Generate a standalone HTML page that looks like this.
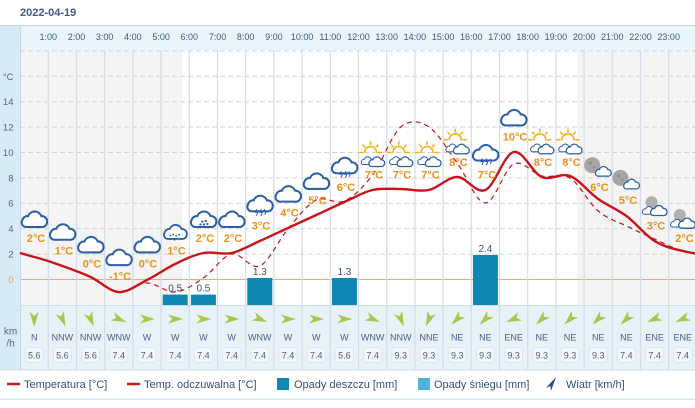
<!DOCTYPE html>
<html><head><meta charset="utf-8"><style>
html,body{margin:0;padding:0;background:#fff;}
svg{display:block;font-family:"Liberation Sans",sans-serif;}
</style></head><body>
<svg width="695" height="408" viewBox="0 0 695 408" xmlns="http://www.w3.org/2000/svg">
<defs>
<g id="cs"><rect x="-11.5" y="0" width="23" height="7" rx="3.5"/><circle cx="-6.5" cy="2.5" r="4.5"/><circle cx="0.5" cy="-0.5" r="6"/><circle cx="7.5" cy="2.5" r="4.5"/></g>
<g id="cl"><use href="#cs" fill="#2b5ea7" stroke="#2b5ea7" stroke-width="4"/><use href="#cs" fill="#fff"/></g>
<g id="rn"><use href="#cl"/><g fill="#2b5ea7"><circle cx="-1" cy="2.5" r="1.1"/><circle cx="2.5" cy="2" r="1.1"/><circle cx="0.5" cy="5.5" r="1.1"/><circle cx="4" cy="5" r="1.1"/><circle cx="-3" cy="5.5" r="1.1"/></g></g>
<g id="sn"><use href="#cl" transform="scale(0.9)"/><g fill="#2b5ea7"><circle cx="-5" cy="4" r="0.9"/><circle cx="-2" cy="3" r="0.9"/><circle cx="1" cy="4" r="0.9"/><circle cx="4" cy="3" r="0.9"/><circle cx="-3.5" cy="7" r="0.9"/><circle cx="-0.5" cy="8" r="0.9"/><circle cx="2.5" cy="7" r="0.9"/></g></g>
<g id="st"><use href="#cl" y="-3"/><path d="M-3,3 l-1.5,3 h2.5 l-1.5,3.5 M1.5,3 l-1.5,3 h2.5 l-1.5,3.5 M5,3 l-1,2.5 h2 l-1,3" stroke="#2b5ea7" stroke-width="1" fill="none"/></g>
<g id="ps"><g stroke="#f3b21b" stroke-width="1.6" fill="none" stroke-linecap="round"><path d="M-8,-3 A6,6 0 0 1 4,-3"/><path d="M-2,-11 V-13.5 M-7.7,-8.7 L-9.4,-10.4 M3.7,-8.7 L5.4,-10.4 M-10,-3 H-13 M6,-3 H9"/></g><use href="#cl" transform="translate(-5,5) scale(0.5)"/><use href="#cl" transform="translate(4,6) scale(0.62)"/></g>
<g id="nt"><circle cx="-6" cy="-3" r="8" fill="#a6a6a6"/><circle cx="-8" cy="-5" r="1.6" fill="#8e8e8e"/><circle cx="-4" cy="-1" r="1.2" fill="#8e8e8e"/><use href="#cl" transform="translate(5,3) scale(0.62)"/></g>
<g id="n2"><circle cx="-3" cy="-4" r="6" fill="#b0b0b0"/><use href="#cl" transform="translate(-6,4) scale(0.5)"/><use href="#cl" transform="translate(4,4) scale(0.65)"/></g>
<polygon id="ar" points="0,8 -4.5,-7 0,-3 4.5,-7" fill="#a3c94b"/>
</defs>

<rect width="695" height="408" fill="#fff"/>
<text x="20" y="16" font-size="11" font-weight="bold" fill="#3d5b85">2022-04-19</text>

<rect x="0" y="25" width="20" height="345" fill="#d8eaf5"/>
<rect x="20" y="25" width="675" height="25" fill="#e9f4fb"/>
<line x1="0" y1="25.5" x2="695" y2="25.5" stroke="#c2d7e6" stroke-width="1"/>
<rect x="20" y="50" width="675" height="255" fill="#fff"/>
<rect x="20" y="50" width="162" height="255" fill="#f4f4f4"/>
<rect x="577" y="50" width="118" height="255" fill="#f4f4f4"/>
<rect x="20" y="305" width="675" height="65" fill="#e7f1f8"/>

<g stroke="#d3d3d3" stroke-width="1" stroke-dasharray="5,3">
<line x1="20" y1="50.9" x2="695" y2="50.9"/>
<line x1="20" y1="76.3" x2="695" y2="76.3"/>
<line x1="20" y1="101.7" x2="695" y2="101.7"/>
<line x1="20" y1="127.1" x2="695" y2="127.1"/>
<line x1="20" y1="152.5" x2="695" y2="152.5"/>
<line x1="20" y1="177.9" x2="695" y2="177.9"/>
<line x1="20" y1="203.3" x2="695" y2="203.3"/>
<line x1="20" y1="228.7" x2="695" y2="228.7"/>
<line x1="20" y1="254.1" x2="695" y2="254.1"/>
</g>
<line x1="20" y1="279.5" x2="695" y2="279.5" stroke="#f0a878" stroke-width="1"/>

<g stroke="#d3dce7" stroke-width="1.2">
<line x1="48.3" y1="50" x2="48.3" y2="370"/><line x1="76.5" y1="50" x2="76.5" y2="370"/><line x1="104.7" y1="50" x2="104.7" y2="370"/><line x1="132.9" y1="50" x2="132.9" y2="370"/><line x1="161.1" y1="50" x2="161.1" y2="370"/><line x1="189.3" y1="50" x2="189.3" y2="370"/><line x1="217.5" y1="50" x2="217.5" y2="370"/><line x1="245.7" y1="50" x2="245.7" y2="370"/><line x1="273.9" y1="50" x2="273.9" y2="370"/><line x1="302.1" y1="50" x2="302.1" y2="370"/><line x1="330.3" y1="50" x2="330.3" y2="370"/><line x1="358.5" y1="50" x2="358.5" y2="370"/><line x1="386.7" y1="50" x2="386.7" y2="370"/><line x1="414.9" y1="50" x2="414.9" y2="370"/><line x1="443.1" y1="50" x2="443.1" y2="370"/><line x1="471.3" y1="50" x2="471.3" y2="370"/><line x1="499.5" y1="50" x2="499.5" y2="370"/><line x1="527.7" y1="50" x2="527.7" y2="370"/><line x1="555.9" y1="50" x2="555.9" y2="370"/><line x1="584.1" y1="50" x2="584.1" y2="370"/><line x1="612.3" y1="50" x2="612.3" y2="370"/><line x1="640.5" y1="50" x2="640.5" y2="370"/><line x1="668.7" y1="50" x2="668.7" y2="370"/>
</g>
<line x1="20.5" y1="25" x2="20.5" y2="370" stroke="#c4d8e6" stroke-width="1"/>
<line x1="20" y1="305.5" x2="695" y2="305.5" stroke="#cfdde8" stroke-width="1"/>
<line x1="0" y1="370" x2="695" y2="370" stroke="#cddfea" stroke-width="1"/>

<g font-size="9" fill="#3e5a82" text-anchor="middle">
<text x="48.3" y="40">1:00</text><text x="76.5" y="40">2:00</text><text x="104.7" y="40">3:00</text><text x="132.9" y="40">4:00</text><text x="161.1" y="40">5:00</text><text x="189.3" y="40">6:00</text><text x="217.5" y="40">7:00</text><text x="245.7" y="40">8:00</text><text x="273.9" y="40">9:00</text><text x="302.1" y="40">10:00</text><text x="330.3" y="40">11:00</text><text x="358.5" y="40">12:00</text><text x="386.7" y="40">13:00</text><text x="414.9" y="40">14:00</text><text x="443.1" y="40">15:00</text><text x="471.3" y="40">16:00</text><text x="499.5" y="40">17:00</text><text x="527.7" y="40">18:00</text><text x="555.9" y="40">19:00</text><text x="584.1" y="40">20:00</text><text x="612.3" y="40">21:00</text><text x="640.5" y="40">22:00</text><text x="668.7" y="40">23:00</text>
</g>

<g font-size="9.5" fill="#4d6587" text-anchor="end">
<text x="13.5" y="79.8">°C</text><text x="13.5" y="105">14</text><text x="13.5" y="130.5">12</text><text x="13.5" y="156">10</text><text x="13.5" y="181.3">8</text><text x="13.5" y="206.7">6</text><text x="13.5" y="232">4</text><text x="13.5" y="257.5">2</text><text x="13.5" y="283" fill="#e8a070">0</text>
</g>
<g font-size="10" fill="#4d6587" text-anchor="middle"><text x="10.5" y="334.5">km</text><text x="10.5" y="346.5">/h</text></g>

<g fill="#0f87b3">
<rect x="162.7" y="294.6" width="25" height="10.4"/>
<rect x="190.9" y="294.6" width="25" height="10.4"/>
<rect x="247.3" y="278" width="25" height="27"/>
<rect x="331.9" y="278" width="25" height="27"/>
<rect x="472.9" y="255" width="25" height="50"/>
</g>
<g font-size="10" fill="#44546a" text-anchor="middle">
<text x="175.2" y="291.5">0.5</text><text x="203.4" y="291.5">0.5</text><text x="259.8" y="275">1.3</text><text x="344.4" y="275">1.3</text><text x="485.4" y="252">2.4</text>
</g>

<path fill="none" stroke="#c8141c" stroke-width="1.2" stroke-dasharray="5,4" d="M20,253 L34.2,257 C43.6,259.17 53,262.67 62.4,266 C71.8,269.33 81.2,272.67 90.6,277 C100,281.33 109.4,291 118.8,292 C128.2,293 137.6,283 147,283 C156.4,283 165.8,292.83 175.2,292 C184.6,291.17 194,284.33 203.4,278 C212.8,271.67 222.2,256 231.6,254 C241,252 250.4,270.17 259.8,266 C269.2,261.83 278.6,240 288,229 C297.4,218 306.8,204.67 316.2,200 C325.6,195.33 335,205.17 344.4,201 C353.8,196.83 363.2,187.33 372.6,175 C382,162.67 391.4,135 400.8,127 C410.2,119 419.6,121 429,127 C438.4,133 447.8,150.33 457.2,163 C466.6,175.67 476,202.83 485.4,203 C494.8,203.17 504.2,168.5 513.6,164 C523,159.5 532.4,173.67 541.8,176 C551.2,178.33 560.6,172.17 570,178 C579.4,183.83 588.8,203 598.2,211 C607.6,219 617,221.33 626.4,226 C635.8,230.67 645.2,234.83 654.6,239 C664,243.17 673.4,248.5 682.8,251 L697,254"/>
<path fill="none" stroke="#c8141c" stroke-width="2.4" stroke-linejoin="round" d="M20,253 L34.2,257 C43.6,259.17 53,262.67 62.4,266 C71.8,269.33 81.2,272.67 90.6,277 C100,281.33 109.4,291.5 118.8,292 C128.2,292.5 137.6,284.67 147,280 C156.4,275.33 165.8,268.5 175.2,264 C184.6,259.5 194,254.83 203.4,253 C212.8,251.17 222.2,255 231.6,253 C241,251 250.4,245.17 259.8,241 C269.2,236.83 278.6,232.33 288,228 C297.4,223.67 306.8,219.33 316.2,215 C325.6,210.67 335,206.17 344.4,202 C353.8,197.83 363.2,192.17 372.6,190 C382,187.83 391.4,189 400.8,189 C410.2,189 419.6,192 429,190 C438.4,188 447.8,177 457.2,177 C466.6,177 476,194.17 485.4,190 C494.8,185.83 504.2,154.17 513.6,152 C523,149.83 532.4,173 541.8,177 C551.2,181 560.6,172.33 570,176 C579.4,179.67 588.8,192.33 598.2,199 C607.6,205.67 617,209 626.4,216 C635.8,223 645.2,235.17 654.6,241 C664,246.83 673.4,248.83 682.8,251 L697,254"/>

<use href="#cl" x="34.2" y="219"/>
<use href="#cl" x="62.4" y="231.7"/>
<use href="#cl" x="90.6" y="244.4"/>
<use href="#cl" x="118.8" y="257.1"/>
<use href="#cl" x="147" y="244.4"/>
<use href="#sn" x="175.2" y="231.7"/>
<use href="#rn" x="203.4" y="219"/>
<use href="#cl" x="231.6" y="219"/>
<use href="#st" x="259.8" y="206.3"/>
<use href="#cl" x="288" y="193.6"/>
<use href="#cl" x="316.2" y="180.9"/>
<use href="#st" x="344.4" y="168.2"/>
<use href="#ps" x="372.6" y="155.5"/>
<use href="#ps" x="400.8" y="155.5"/>
<use href="#ps" x="429" y="155.5"/>
<use href="#ps" x="457.2" y="142.8"/>
<use href="#st" x="485.4" y="155.5"/>
<use href="#cl" x="513.6" y="117.4"/>
<use href="#ps" x="541.8" y="142.8"/>
<use href="#ps" x="570" y="142.8"/>
<use href="#nt" x="598.2" y="168.2"/>
<use href="#nt" x="626.4" y="180.9"/>
<use href="#n2" x="654.6" y="206.3"/>
<use href="#n2" x="682.8" y="219"/>

<g font-size="11" font-weight="bold" fill="#e8921c" text-anchor="middle">
<text x="36" y="242">2°C</text><text x="64" y="254.7">1°C</text><text x="92" y="267.4">0°C</text><text x="120" y="280.1">-1°C</text><text x="148" y="267.4">0°C</text><text x="176.5" y="254.7">1°C</text><text x="205" y="242">2°C</text><text x="233" y="242">2°C</text><text x="261" y="229.3">3°C</text><text x="289.5" y="216.6">4°C</text><text x="317.5" y="203.9">5°C</text><text x="346" y="191.2">6°C</text><text x="374" y="178.5">7°C</text><text x="402" y="178.5">7°C</text><text x="430.5" y="178.5">7°C</text><text x="458.5" y="165.8">8°C</text><text x="487" y="178.5">7°C</text><text x="515" y="140.4">10°C</text><text x="543" y="165.8">8°C</text><text x="571.5" y="165.8">8°C</text><text x="599.5" y="191.2">6°C</text><text x="628" y="203.9">5°C</text><text x="656" y="229.3">3°C</text><text x="684.5" y="242">2°C</text>
</g>

<use href="#ar" transform="translate(34.2,319) rotate(0)"/>
<use href="#ar" transform="translate(62.4,319) rotate(337.5)"/>
<use href="#ar" transform="translate(90.6,319) rotate(337.5)"/>
<use href="#ar" transform="translate(118.8,319) rotate(292.5)"/>
<use href="#ar" transform="translate(147,319) rotate(270)"/>
<use href="#ar" transform="translate(175.2,319) rotate(270)"/>
<use href="#ar" transform="translate(203.4,319) rotate(270)"/>
<use href="#ar" transform="translate(231.6,319) rotate(270)"/>
<use href="#ar" transform="translate(259.8,319) rotate(292.5)"/>
<use href="#ar" transform="translate(288,319) rotate(270)"/>
<use href="#ar" transform="translate(316.2,319) rotate(270)"/>
<use href="#ar" transform="translate(344.4,319) rotate(270)"/>
<use href="#ar" transform="translate(372.6,319) rotate(292.5)"/>
<use href="#ar" transform="translate(400.8,319) rotate(337.5)"/>
<use href="#ar" transform="translate(429,319) rotate(22.5)"/>
<use href="#ar" transform="translate(457.2,319) rotate(45)"/>
<use href="#ar" transform="translate(485.4,319) rotate(45)"/>
<use href="#ar" transform="translate(513.6,319) rotate(67.5)"/>
<use href="#ar" transform="translate(541.8,319) rotate(45)"/>
<use href="#ar" transform="translate(570,319) rotate(45)"/>
<use href="#ar" transform="translate(598.2,319) rotate(45)"/>
<use href="#ar" transform="translate(626.4,319) rotate(45)"/>
<use href="#ar" transform="translate(654.6,319) rotate(67.5)"/>
<use href="#ar" transform="translate(682.8,319) rotate(67.5)"/>

<g fill="#f1f7fb" stroke="#dbe7f0" stroke-width="1">
<rect x="25.2" y="347.5" width="18" height="15" rx="3"/><rect x="53.4" y="347.5" width="18" height="15" rx="3"/><rect x="81.6" y="347.5" width="18" height="15" rx="3"/><rect x="109.8" y="347.5" width="18" height="15" rx="3"/><rect x="138" y="347.5" width="18" height="15" rx="3"/><rect x="166.2" y="347.5" width="18" height="15" rx="3"/><rect x="194.4" y="347.5" width="18" height="15" rx="3"/><rect x="222.6" y="347.5" width="18" height="15" rx="3"/><rect x="250.8" y="347.5" width="18" height="15" rx="3"/><rect x="279" y="347.5" width="18" height="15" rx="3"/><rect x="307.2" y="347.5" width="18" height="15" rx="3"/><rect x="335.4" y="347.5" width="18" height="15" rx="3"/><rect x="363.6" y="347.5" width="18" height="15" rx="3"/><rect x="391.8" y="347.5" width="18" height="15" rx="3"/><rect x="420" y="347.5" width="18" height="15" rx="3"/><rect x="448.2" y="347.5" width="18" height="15" rx="3"/><rect x="476.4" y="347.5" width="18" height="15" rx="3"/><rect x="504.6" y="347.5" width="18" height="15" rx="3"/><rect x="532.8" y="347.5" width="18" height="15" rx="3"/><rect x="561" y="347.5" width="18" height="15" rx="3"/><rect x="589.2" y="347.5" width="18" height="15" rx="3"/><rect x="617.4" y="347.5" width="18" height="15" rx="3"/><rect x="645.6" y="347.5" width="18" height="15" rx="3"/><rect x="673.8" y="347.5" width="18" height="15" rx="3"/>
</g>
<g font-size="9" fill="#4a6080" text-anchor="middle">
<text x="34.2" y="340.5">N</text><text x="62.4" y="340.5">NNW</text><text x="90.6" y="340.5">NNW</text><text x="118.8" y="340.5">WNW</text><text x="147" y="340.5">W</text><text x="175.2" y="340.5">W</text><text x="203.4" y="340.5">W</text><text x="231.6" y="340.5">W</text><text x="259.8" y="340.5">WNW</text><text x="288" y="340.5">W</text><text x="316.2" y="340.5">W</text><text x="344.4" y="340.5">W</text><text x="372.6" y="340.5">WNW</text><text x="400.8" y="340.5">NNW</text><text x="429" y="340.5">NNE</text><text x="457.2" y="340.5">NE</text><text x="485.4" y="340.5">NE</text><text x="513.6" y="340.5">ENE</text><text x="541.8" y="340.5">NE</text><text x="570" y="340.5">NE</text><text x="598.2" y="340.5">NE</text><text x="626.4" y="340.5">NE</text><text x="654.6" y="340.5">ENE</text><text x="682.8" y="340.5">ENE</text>
<text x="34.2" y="358.5">5.6</text><text x="62.4" y="358.5">5.6</text><text x="90.6" y="358.5">5.6</text><text x="118.8" y="358.5">7.4</text><text x="147" y="358.5">7.4</text><text x="175.2" y="358.5">7.4</text><text x="203.4" y="358.5">7.4</text><text x="231.6" y="358.5">7.4</text><text x="259.8" y="358.5">7.4</text><text x="288" y="358.5">7.4</text><text x="316.2" y="358.5">7.4</text><text x="344.4" y="358.5">5.6</text><text x="372.6" y="358.5">7.4</text><text x="400.8" y="358.5">9.3</text><text x="429" y="358.5">9.3</text><text x="457.2" y="358.5">9.3</text><text x="485.4" y="358.5">9.3</text><text x="513.6" y="358.5">9.3</text><text x="541.8" y="358.5">9.3</text><text x="570" y="358.5">9.3</text><text x="598.2" y="358.5">9.3</text><text x="626.4" y="358.5">7.4</text><text x="654.6" y="358.5">7.4</text><text x="682.8" y="358.5">7.4</text>
</g>

<rect x="0" y="398.5" width="695" height="1.5" fill="#d3e5f0"/>
<line x1="7" y1="384" x2="20" y2="384" stroke="#cc1b1b" stroke-width="2.5"/>
<line x1="127" y1="384" x2="140" y2="384" stroke="#cc1b1b" stroke-width="2.5"/>
<rect x="277" y="378" width="12" height="12" fill="#0f87b3"/>
<rect x="418" y="378" width="12" height="12" fill="#4db3dc"/>
<polygon points="556,377 551,391 550.5,386 546,388" fill="#2e4a78"/>
<g font-size="11" fill="#3b4e6e">
<text x="24" y="388">Temperatura [°C]</text>
<text x="144" y="388">Temp. odczuwalna [°C]</text>
<text x="294" y="388">Opady deszczu [mm]</text>
<text x="434" y="388">Opady śniegu [mm]</text>
<text x="566" y="388">Wiatr [km/h]</text>
</g>
</svg>
</body></html>
